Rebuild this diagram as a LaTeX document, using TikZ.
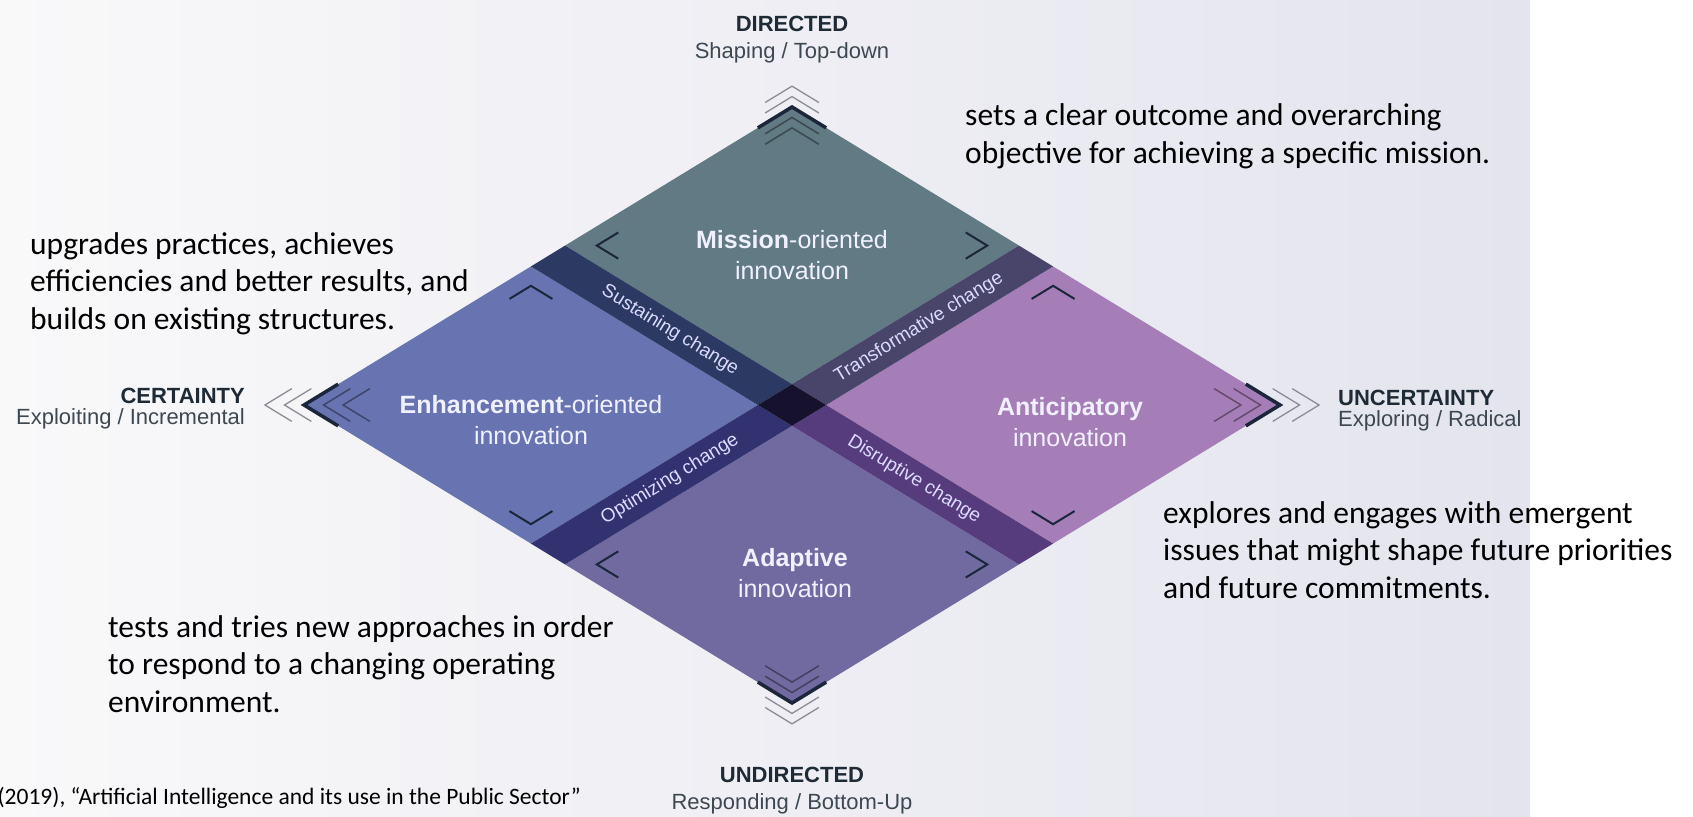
\documentclass[tikz,border=0pt]{standalone}
\usepackage{fontspec}
\setmainfont{Liberation Sans}
\newfontfamily\notefont{Carlito}
\usetikzlibrary{positioning}

\definecolor{missioncol}{RGB}{97,122,132}
\definecolor{enhancecol}{RGB}{104,116,178}
\definecolor{anticipcol}{RGB}{166,126,183}
\definecolor{adaptcol}{RGB}{112,106,160}
\definecolor{sustaincol}{RGB}{44,57,98}
\definecolor{transfcol}{RGB}{72,68,106}
\definecolor{optimcol}{RGB}{50,50,112}
\definecolor{disruptcol}{RGB}{86,60,124}
\definecolor{centercol}{RGB}{22,18,46}
\definecolor{chevdark}{RGB}{28,38,58}
\definecolor{chevgray}{RGB}{140,140,148}
\definecolor{axisdark}{RGB}{30,42,54}
\definecolor{axisgray}{RGB}{62,72,82}
\definecolor{panelleft}{RGB}{249,249,250}
\definecolor{panelright}{RGB}{228,228,238}

\begin{document}
\begin{tikzpicture}[x=1pt,y=-1pt,
  axishead/.style={font=\bfseries\fontsize{22}{26}\selectfont, text=axisdark, inner sep=0},
  axissub/.style={font=\fontsize{22}{26}\selectfont, text=axisgray, inner sep=0},
  quadlabel/.style={font=\fontsize{25}{31}\selectfont, text=white!94!blue, align=center, inner sep=0},
  bandlabel/.style={font=\fontsize{19}{22}\selectfont, text=white!86!blue, inner sep=0},
  notetext/.style={font=\notefont\fontsize{31.5}{37.5}\selectfont, align=left, inner sep=0},
  quadchev/.style={draw=chevdark, line width=2pt},
  vertexchev/.style={draw=chevdark, line width=3.5pt},
  innerchev/.style={draw=black, draw opacity=0.4, line width=1.5pt},
  outerchev/.style={draw=chevgray, line width=1.3pt}]
\useasboundingbox (0,0) rectangle (1693,816);
\shade [left color=panelleft, right color=panelright] (0,0) rectangle (1530,816);

% the diamond, in its own unit coordinates
\begin{scope}[shift={(792,405)}, x=488pt, y=298pt]
\fill [missioncol] (0,1) -- (0.465,0.535) -- (0,0.07) -- (-0.465,0.535) -- cycle;
\fill [enhancecol] (-1,0) -- (-0.535,0.465) -- (-0.07,0) -- (-0.535,-0.465) -- cycle;
\fill [anticipcol] (1,0) -- (0.535,0.465) -- (0.07,0) -- (0.535,-0.465) -- cycle;
\fill [adaptcol] (0,-1) -- (0.465,-0.535) -- (0,-0.07) -- (-0.465,-0.535) -- cycle;
\fill [sustaincol] (-0.465,0.535) -- (-0.535,0.465) -- (-0.07,0) -- (0,0.07) -- cycle;
\fill [transfcol] (0.465,0.535) -- (0.535,0.465) -- (0.07,0) -- (0,0.07) -- cycle;
\fill [optimcol] (-0.535,-0.465) -- (-0.465,-0.535) -- (0,-0.07) -- (-0.07,0) -- cycle;
\fill [disruptcol] (0.535,-0.465) -- (0.465,-0.535) -- (0,-0.07) -- (0.07,0) -- cycle;
\fill [centercol] (0,0.07) -- (0.07,0) -- (0,-0.07) -- (-0.07,0) -- cycle;

\node (sustaining) [bandlabel, rotate=-31.4] at (-0.25,0.25) {Sustaining change};
\node (transformative) [bandlabel, rotate=31.4] at (0.26,0.26) {Transformative change};
\node (optimizing) [bandlabel, rotate=31.4] at (-0.25,-0.25) {Optimizing change};
\node (disruptive) [bandlabel, rotate=-31.4] at (0.25,-0.25) {Disruptive change};

% small chevrons in the corners of each field
\draw [quadchev] (-0.356,0.579) -- ++(-0.044,-0.044) -- ++(0.044,-0.044);
\draw [quadchev] (0.356,0.579) -- ++(0.044,-0.044) -- ++(-0.044,-0.044);
\draw [quadchev] (-0.579,0.356) -- ++(0.044,0.044) -- ++(0.044,-0.044);
\draw [quadchev] (-0.579,-0.356) -- ++(0.044,-0.044) -- ++(0.044,0.044);
\draw [quadchev] (0.491,0.356) -- ++(0.044,0.044) -- ++(0.044,-0.044);
\draw [quadchev] (0.491,-0.356) -- ++(0.044,-0.044) -- ++(0.044,0.044);
\draw [quadchev] (-0.356,-0.491) -- ++(-0.044,-0.044) -- ++(0.044,-0.044);
\draw [quadchev] (0.356,-0.491) -- ++(0.044,-0.044) -- ++(-0.044,-0.044);

% chevrons at the four tips
\draw [vertexchev] (-0.07,0.93) -- (0,1) -- (0.07,0.93);
\draw [vertexchev] (-0.07,-0.93) -- (0,-1) -- (0.07,-0.93);
\draw [vertexchev] (-0.93,0.07) -- (-1,0) -- (-0.93,-0.07);
\draw [vertexchev] (0.93,0.07) -- (1,0) -- (0.93,-0.07);
\foreach \s in {0.035,0.07} {
  \draw [outerchev] (-0.055,0.945+\s) -- (0,1+\s) -- (0.055,0.945+\s);
  \draw [innerchev] (-0.055,0.945-\s) -- (0,1-\s) -- (0.055,0.945-\s);
  \draw [outerchev] (-0.055,-0.945-\s) -- (0,-1-\s) -- (0.055,-0.945-\s);
  \draw [innerchev] (-0.055,-0.945+\s) -- (0,-1+\s) -- (0.055,-0.945+\s);
}
\foreach \s in {0.04,0.08} {
  \draw [outerchev] (-0.945-\s,0.055) -- (-1-\s,0) -- (-0.945-\s,-0.055);
  \draw [innerchev] (-0.945+\s,0.055) -- (-1+\s,0) -- (-0.945+\s,-0.055);
  \draw [outerchev] (0.945+\s,0.055) -- (1+\s,0) -- (0.945+\s,-0.055);
  \draw [innerchev] (0.945-\s,0.055) -- (1-\s,0) -- (0.945-\s,-0.055);
}
\end{scope}

\node (mission) [quadlabel] at (792,255) {\textbf{Mission}-oriented\\innovation};
\node (enhancement) [quadlabel] at (531,420) {\textbf{Enhancement}-oriented\\innovation};
\node (anticipatory) [quadlabel] at (1070,422) {\textbf{Anticipatory}\\innovation};
\node (adaptive) [quadlabel] at (795,573) {\textbf{Adaptive}\\innovation};

\node (directed) [axishead, anchor=base] at (792,32) {DIRECTED};
\node (shaping) [axissub, anchor=base] at (792,59) {Shaping / Top-down};
\node (undirected) [axishead, anchor=base] at (792,782) {UNDIRECTED};
\node (responding) [axissub, anchor=base] at (792,809) {Responding / Bottom-Up};
\node (certainty) [axishead, anchor=base east] at (245,403) {CERTAINTY};
\node (exploiting) [axissub, anchor=base east] at (245,424) {Exploiting / Incremental};
\node (uncertainty) [axishead, anchor=base west] at (1338,405) {UNCERTAINTY};
\node (exploring) [axissub, anchor=base west] at (1338,426) {Exploring / Radical};

% notes: base anchor sits on the last line
\node (notemission) [notetext, anchor=base west] at (965,163) {sets a clear outcome and overarching\\objective for achieving a specific mission.};
\node (noteenhance) [notetext, anchor=base west] at (30,329) {upgrades practices, achieves\\efficiencies and better results, and\\builds on existing structures.};
\node (noteanticip) [notetext, anchor=base west] at (1163,598) {explores and engages with emergent\\issues that might shape future priorities\\and future commitments.};
\node (noteadapt) [notetext, anchor=base west] at (108,712) {tests and tries new approaches in order\\to respond to a changing operating\\environment.};
\node (source) [font=\notefont\fontsize{23.5}{27}\selectfont, anchor=base east, inner sep=0] at (581,804) {(2019), “Artificial Intelligence and its use in the Public Sector”};
\end{tikzpicture}
\end{document}
